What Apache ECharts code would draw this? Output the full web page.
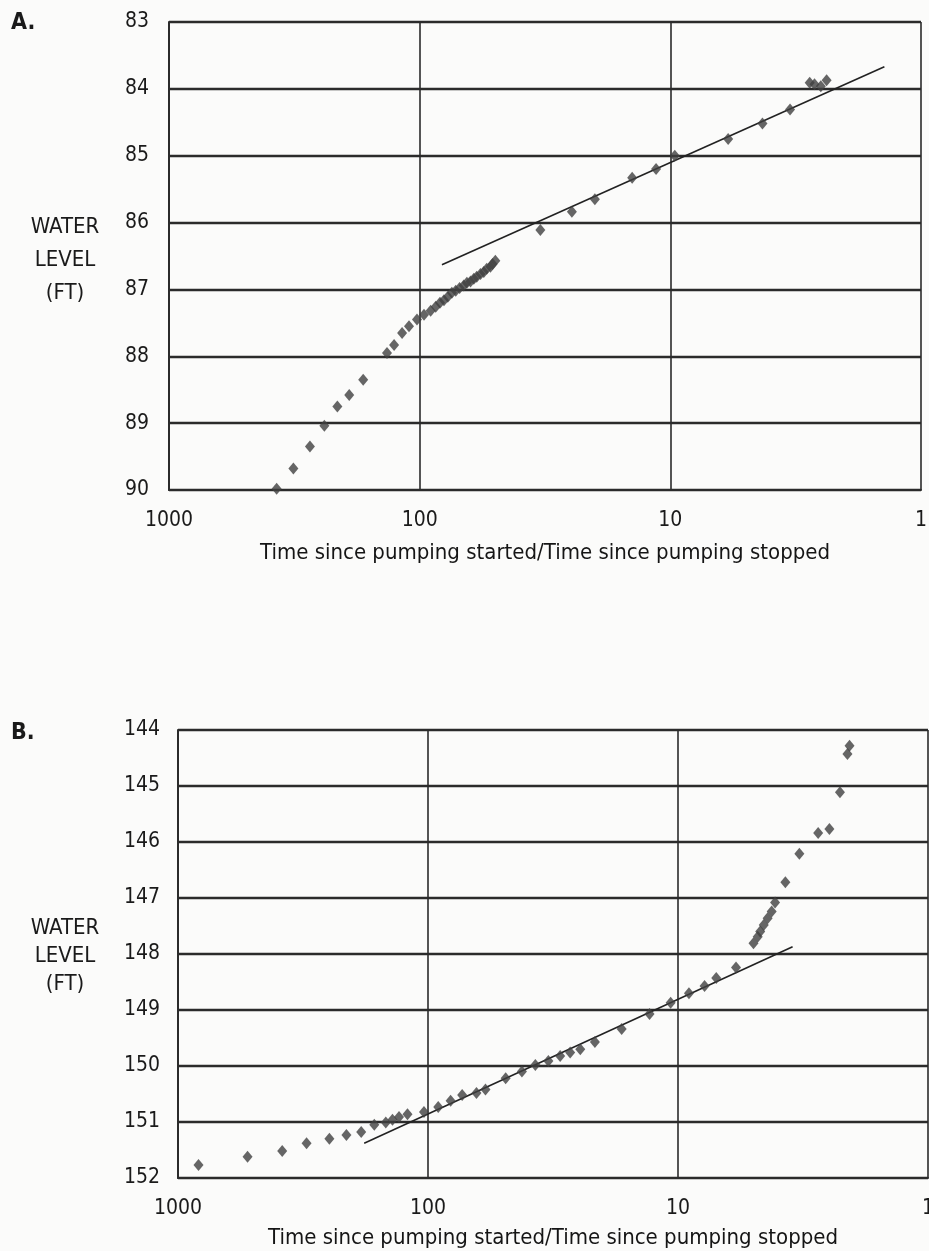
<!DOCTYPE html>
<html><head><meta charset="utf-8">
<script src="https://cdn.jsdelivr.net/npm/echarts@6/dist/echarts.min.js"></script>
<style>html,body{margin:0;padding:0;background:#fbfbfa;}#c{width:929px;height:1251px;}</style>
</head><body><div id="c"></div>
<script>
// Panel A: [ratio t/t', water level ft]
const seriesA = [[2.38,83.87],[2.51,83.96],[2.66,83.93],[2.78,83.91],[3.33,84.31],[4.29,84.52],[5.88,84.75],[9.6,85.0],[11.4,85.2],[14.2,85.33],[20,85.65],[24.7,85.84],[33,86.11],[49.9,86.57],[51.2,86.62],[52.2,86.66],[54.0,86.69],[55.5,86.74],[57.2,86.77],[59.2,86.81],[60.8,86.84],[62.7,86.88],[64.8,86.90],[66.7,86.94],[69.3,86.98],[71.8,87.02],[74.4,87.05],[77.2,87.11],[80,87.16],[83,87.20],[86.3,87.26],[90.4,87.32],[96.1,87.38],[102.5,87.45],[110.3,87.55],[117.5,87.65],[126.5,87.83],[135,87.95],[168,88.35],[191,88.58],[213,88.75],[240,89.04],[274,89.35],[319,89.68],[372,89.98]];
const fitA = [[81.5,86.63],[1.40,83.67]];
// Panel B
const seriesB = [[2.06,144.28],[2.10,144.43],[2.25,145.11],[2.48,145.77],[2.75,145.84],[3.27,146.21],[3.72,146.72],[4.09,147.08],[4.22,147.24],[4.38,147.36],[4.54,147.48],[4.69,147.60],[4.80,147.69],[4.99,147.81],[5.86,148.24],[7.03,148.43],[7.83,148.57],[9.04,148.70],[10.7,148.87],[13.0,149.07],[16.8,149.34],[21.5,149.57],[24.6,149.70],[27.0,149.76],[29.6,149.82],[33.0,149.91],[37.2,149.98],[42.1,150.10],[48.9,150.22],[58.9,150.42],[64.0,150.48],[73.0,150.52],[81.2,150.62],[91.0,150.73],[103.8,150.82],[120.8,150.86],[130.6,150.91],[138.7,150.96],[147.5,151.01],[164,151.05],[185,151.18],[212,151.23],[248,151.30],[306,151.38],[383,151.52],[527,151.62],[828,151.77]];
const fitB = [[180,151.38],[3.48,147.87]];
const yRangeA = [83, 90];
const yRangeB = [144, 152];
const xRange = [1, 1000];
const xTitle = 'Time since pumping started/Time since pumping stopped';
const yTitle = 'WATER\nLEVEL\n(FT)';

const FONT = "'DejaVu Sans Condensed','Liberation Sans Narrow',sans-serif";
const INK = '#2b2b2b';
function xAx(gi,gap){
  return {gridIndex:gi,type:'log',logBase:10,min:xRange[0],max:xRange[1],inverse:true,
    name:xTitle,nameLocation:'middle',nameGap:gap,
    nameTextStyle:{fontFamily:FONT,fontSize:22,color:'#151515'},
    axisLine:{show:true,lineStyle:{color:INK,width:2}},axisTick:{show:false},
    axisLabel:{fontFamily:FONT,fontSize:21,color:'#1a1a1a',margin:20,formatter:v=>String(Math.round(v))},
    splitLine:{show:true,lineStyle:{color:INK,width:1.6}},minorTick:{show:false}};
}
function yAx(gi,r,m){
  return {gridIndex:gi,type:'value',min:r[0],max:r[1],interval:1,inverse:true,
    axisLine:{show:true,lineStyle:{color:INK,width:2}},axisTick:{show:false},
    axisLabel:{fontFamily:FONT,fontSize:21,color:'#1a1a1a',margin:m},
    splitLine:{show:true,lineStyle:{color:INK,width:2.3}}};
}
const chart = echarts.init(document.getElementById('c'),null,{renderer:'canvas'});
chart.setOption({
  backgroundColor:'#fbfbfa',
  animation:false,
  grid:[{left:169,top:22,width:752,height:468,outerBoundsMode:'none',containLabel:false},
        {left:178,top:730,width:750,height:448,outerBoundsMode:'none',containLabel:false}],
  xAxis:[xAx(0,52),xAx(1,49)],
  yAxis:[yAx(0,yRangeA,20),yAx(1,yRangeB,18)],
  graphic:[
    {type:'text',left:11,top:12,style:{text:'A.',font:"bold 23px "+FONT,fill:'#1a1a1a'}},
    {type:'text',left:11,top:722,style:{text:'B.',font:"bold 23px "+FONT,fill:'#1a1a1a'}},
    {type:'text',x:65,y:211,style:{text:yTitle,font:"22px "+FONT,fill:'#1a1a1a',align:'center',verticalAlign:'top',lineHeight:33}},
    {type:'text',x:65,y:914,style:{text:yTitle,font:"22px "+FONT,fill:'#1a1a1a',align:'center',verticalAlign:'top',lineHeight:28}}
  ],
  series:[
    {type:'scatter',xAxisIndex:0,yAxisIndex:0,data:seriesA,symbol:'diamond',symbolSize:[10,12],itemStyle:{color:'#404040'},z:3},
    {type:'line',xAxisIndex:0,yAxisIndex:0,data:fitA,symbol:'none',lineStyle:{color:'#222',width:1.6},z:2},
    {type:'scatter',xAxisIndex:1,yAxisIndex:1,data:seriesB,symbol:'diamond',symbolSize:[10,12],itemStyle:{color:'#404040'},z:3},
    {type:'line',xAxisIndex:1,yAxisIndex:1,data:fitB,symbol:'none',lineStyle:{color:'#222',width:1.6},z:2}
  ]
});
</script></body></html>
